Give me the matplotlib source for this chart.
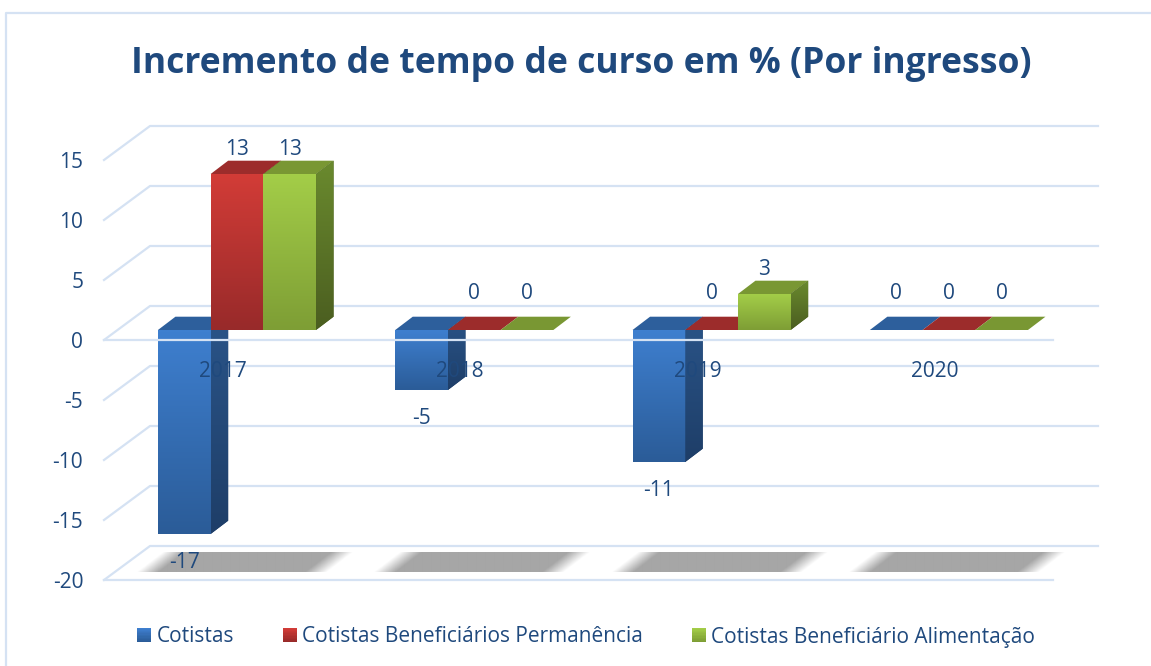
import numpy as np
import matplotlib
matplotlib.use("Agg")
import matplotlib.pyplot as plt
from matplotlib.colors import to_rgb
from matplotlib.legend_handler import HandlerBase
from matplotlib.lines import Line2D
from matplotlib.patches import Patch, Polygon, Rectangle

plt.rcParams['font.family'] = ['Open Sans', 'DejaVu Sans']
plt.rcParams['axes.unicode_minus'] = False

years = ['2017', '2018', '2019', '2020']
cotistas = [-17, -5, -11, 0]
permanencia = [13, 0, 0, 0]
alimentacao = [13, 0, 3, 0]
series_names = ['Cotistas', 'Cotistas Beneficiários Permanência', 'Cotistas Beneficiário Alimentação']
y_ticks = [-20, -15, -10, -5, 0, 5, 10, 15]
title = 'Incremento de tempo de curso em % (Por ingresso)'

text_col = '#1F497D'
grid_col = '#D5E2F3'
# front top, front bottom, cap, side top, side bottom
blue = ('#3E7FCF', '#2B5C98', '#2D5F9C', '#2A5488', '#1E3E68')
red = ('#D23C37', '#982A2A', '#9C2C2B', '#7A2222', '#5E1A1A')
green = ('#A3CD48', '#7E9E35', '#799733', '#6A8A2E', '#4B5E20')

W, H = 1151, 666
px_x = 237.3   # pixels per category
px_y = 12.0    # pixels per percent
bar_w = 52.7 / px_x
bar_dx = 17.5 / px_x
bar_dy = 13.3 / px_y
plane = 10 / px_y       # bars stand a bit behind the front of the floor
grid_dx = 46 / px_x
grid_dy = 34 / px_y
grid_lw = 1.6
font_size = 15

fig = plt.figure(figsize=(W / 100, H / 100), dpi=100)
ax = fig.add_axes([104 / W, (H - 580) / H, (1098 - 104) / W, 480 / H])
x0 = (104 - 237) / px_x
x1 = (1098 - 237) / px_x
ax.patch.set_alpha(0)


def gradient(xa, xb, ya, yb, c_top, c_bot, z):
    # vertical colour ramp between two colours
    t = np.linspace(0, 1, 64)[:, None]
    img = (1 - t) * np.array(to_rgb(c_top)) + t * np.array(to_rgb(c_bot))
    return ax.imshow(img[:, None, :], extent=(xa, xb, ya, yb), origin='upper', aspect='auto',
                     interpolation='bilinear', zorder=z)


def draw_bar(x, v, cols, z):
    lo, hi = min(v, 0) + plane, max(v, 0) + plane
    ax.bar(x, hi - lo, bar_w, bottom=lo, align='edge', color=cols[0], zorder=z)
    if hi > lo:
        gradient(x, x + bar_w, lo, hi, cols[0], cols[1], z + 0.01)
    ax.add_patch(Polygon([(x, hi), (x + bar_dx, hi + bar_dy), (x + bar_w + bar_dx, hi + bar_dy), (x + bar_w, hi)],
                         facecolor=cols[2], edgecolor='none', zorder=z))
    if hi > lo:
        # side face, ramp clipped to a parallelogram
        side = Polygon([(x + bar_w, hi), (x + bar_w + bar_dx, hi + bar_dy),
                        (x + bar_w + bar_dx, lo + bar_dy), (x + bar_w, lo)],
                       facecolor=cols[4], edgecolor='none', zorder=z)
        ax.add_patch(side)
        im = gradient(x + bar_w, x + bar_w + bar_dx, lo, hi + bar_dy, cols[3], cols[4], z + 0.01)
        im.set_clip_path(side)


def shadow(i):
    # grey floor shadow with soft slanted ends
    yb, yt = (340 - 572.5) / px_y, (340 - 553) / px_y
    xl, xr = i - 100 / px_x, i + 116 / px_x
    ny, nx = 20, 240
    xs = np.linspace(xl, xr, nx)
    ys = np.linspace(0, 1, ny)[:, None]   # 0 at bottom
    slant = 25 / px_x
    fade = 22 / px_x
    left = xl + slant * ys
    right = xr - slant + slant * ys
    a = np.clip((xs - left) / fade, 0, 1) * np.clip((right - xs) / fade, 0, 1)
    img = np.zeros((ny, nx, 4))
    img[..., :3] = to_rgb('#A6A6A6')
    img[..., 3] = a
    ax.imshow(img, extent=(xl, xr, yb, yt), origin='lower', aspect='auto', interpolation='bilinear', zorder=1.5)


# grid
for v in y_ticks:
    ax.plot([x0, x0 + grid_dx, x1], [v, v + grid_dy, v + grid_dy], color=grid_col, lw=grid_lw, zorder=1, clip_on=False)
front_end = x1 - grid_dx + 1 / px_x
ax.plot([x0, front_end], [-20, -20], color=grid_col, lw=grid_lw, zorder=1, clip_on=False)
ax.plot([x0, front_end], [0, 0], color=grid_col, lw=grid_lw, zorder=6, clip_on=False)

for i in range(len(years)):
    shadow(i)

series = [(cotistas, blue), (permanencia, red), (alimentacao, green)]
for i in range(len(years)):
    for k, (vals, cols) in enumerate(series):
        x = i + (k - 1.5) * bar_w
        draw_bar(x, vals[i], cols, 3 + k * 0.1)
        v = vals[i]
        if v > 0:
            yl = v + plane + 24.5 / px_y
        elif v < 0:
            yl = v + plane - 29 / px_y
        else:
            yl = plane + 36.5 / px_y
        ax.text(x + bar_w / 2, yl, str(v), ha='center', va='center', fontsize=font_size, color=text_col, zorder=8)

ax.set_xlim(x0, x1)
ax.set_ylim(-20, 20)
for s in ax.spines.values():
    s.set_visible(False)
ax.set_yticks(y_ticks)
ax.tick_params(axis='y', length=0, pad=15, labelsize=font_size, labelcolor=text_col)
ax.spines['bottom'].set_position(('data', 0))
ax.set_xticks([i - 14 / px_x for i in range(len(years))])
ax.set_xticklabels(years)
ax.tick_params(axis='x', length=0, pad=15, labelsize=font_size, labelcolor=text_col)
ax.xaxis.set_zorder(8)

fig.text(581 / W, 1 - 64 / H, title, ha='center', va='center', fontsize=25.6, fontweight='bold', color=text_col)

# chart frame, only left and top show up in the crop
fig.add_artist(Line2D([6 / W, 6 / W, 1], [0, 1 - 13 / H, 1 - 13 / H], color=grid_col, lw=grid_lw))


class GradientHandle(HandlerBase):
    def create_artists(self, legend, orig, xd, yd, width, height, fontsize, trans):
        c_top, c_bot = orig.cols
        out = []
        n = 10
        for j in range(n):
            t = j / (n - 1)
            c = (1 - t) * np.array(to_rgb(c_top)) + t * np.array(to_rgb(c_bot))
            out.append(Rectangle((-xd, -yd + height * (n - 1 - j) / n), width, height / n + 0.2,
                                 facecolor=c, edgecolor='none', transform=trans))
        return out


handles = []
for name, cols in zip(series_names, (blue, red, green)):
    p = Patch(label=name)
    p.cols = cols[:2]
    handles.append(p)
fig.legend(handles=handles, handler_map={Patch: GradientHandle()}, loc='center', bbox_to_anchor=(586 / W, 1 - 637 / H),
           ncol=3, frameon=False, fontsize=font_size, labelcolor=text_col, handlelength=0.67, handleheight=0.67,
           handletextpad=0.25, columnspacing=2.35, borderpad=0, borderaxespad=0)

fig.savefig('out.png', dpi=100)
